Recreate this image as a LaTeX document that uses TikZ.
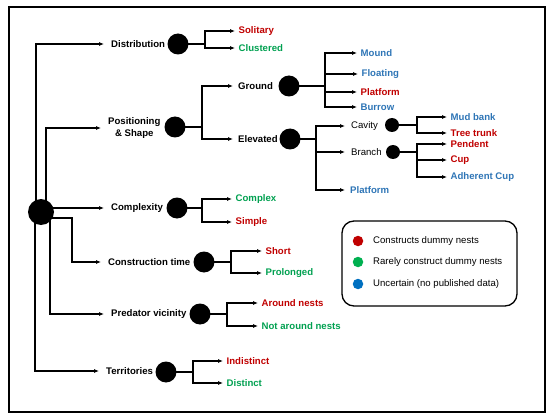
\documentclass[tikz,border=0pt]{standalone}
\usepackage{fontspec}
\setmainfont{Liberation Sans}
\usetikzlibrary{arrows.meta}
\definecolor{cred}{RGB}{192,0,0}
\definecolor{cgreen}{RGB}{0,160,80}
\definecolor{cblue}{RGB}{46,117,182}
\definecolor{dred}{RGB}{192,0,0}
\definecolor{dgreen}{RGB}{0,176,80}
\definecolor{dblue}{RGB}{0,112,192}
\begin{document}
\begin{tikzpicture}[x=1pt,y=-1pt,
  lw/.style={line width=1.3pt},
  conn/.style={lw,-{Latex[length=5pt,width=4.2pt]}},
  bigdot/.style={circle,fill=black,inner sep=0pt,minimum size=21pt},
  smalldot/.style={circle,fill=black,inner sep=0pt,minimum size=14pt},
  txt/.style={font=\fontsize{9.6}{11.5}\selectfont, anchor=west, inner ysep=1pt},
  cat/.style={txt,font=\fontsize{9.6}{11.5}\selectfont\bfseries, inner xsep=7pt},
  sub/.style={txt,font=\fontsize{9.6}{11.5}\selectfont\bfseries, inner xsep=5pt},
  plain/.style={txt, inner xsep=6pt},
  leaf/.style={txt,font=\fontsize{9.6}{11.5}\selectfont\bfseries, inner xsep=3.5pt, text=#1},
  legtxt/.style={txt, inner xsep=0pt},
  legdot/.style={circle,fill=#1,inner sep=0pt,minimum size=10.5pt}
]
\useasboundingbox (0,0) rectangle (555,420);
\draw[line width=1.6pt] (9,7) rectangle (545,412);

% root
\node[circle,fill=black,inner sep=0pt,minimum size=26pt] (root) at (41,212) {};

% level 1 labels
\node[cat] (dist) at (104,44) {Distribution};
\node[cat,align=center] (pos) at (101,128) {Positioning\\\& Shape};
\node[cat] (cplx) at (104,208) {Complexity};
\node[cat] (ctime) at (101,262) {Construction time};
\node[cat] (pred) at (104,314) {Predator vicinity};
\node[cat] (terr) at (99,371) {Territories};

\coordinate (jroot) at (72,218);
\draw[conn] ([xshift=-5pt]root.center) |- (dist.west);
\draw[conn] ([xshift=5pt]root.center) |- (pos.west);
\draw[conn] ([yshift=4pt]root.center) -- (cplx.west);
\draw[conn] (root.center |- jroot) -- (jroot) |- (ctime.west);
\draw[conn] ([xshift=9pt]root.center) |- (pred.west);
\draw[conn] ([xshift=-6pt]root.center) |- (terr.west);

% level 1 dots
\node[bigdot] (cdist) at (178,44) {};
\node[bigdot] (cpos) at (175,127) {};
\node[bigdot] (ccplx) at (177,208) {};
\node[bigdot] (cctime) at (204,262) {};
\node[bigdot] (cpred) at (200,314) {};
\node[bigdot] (cterr) at (166,372) {};

% Distribution
\node[leaf=cred] (sol) at (235,31) {Solitary};
\node[leaf=cgreen] (clu) at (235,48) {Clustered};
\coordinate (jd) at (205,44);
\draw[lw] (cdist.center) -- (jd);
\draw[conn] (jd) |- (sol.west);
\draw[conn] (jd) |- (clu.west);

% Positioning
\node[sub] (ground) at (233,86) {Ground};
\node[sub] (elev) at (233,139) {Elevated};
\coordinate (jp) at (202,127);
\draw[lw] (cpos.center) -- (jp);
\draw[conn] (jp) |- (ground.west);
\draw[conn] (jp) |- (elev.west);

% Ground
\node[bigdot] (cground) at (289,86) {};
\node[leaf=cblue] (mound) at (357,53) {Mound};
\node[leaf=cblue] (float) at (358,74) {Floating};
\node[leaf=cred] (plat1) at (357,92) {Platform};
\node[leaf=cblue] (burrow) at (357,107) {Burrow};
\coordinate (jg) at (325,86);
\draw[lw] (cground.center) -- (jg);
\draw[conn] (jg) |- (mound.west);
\draw[conn] (jg) |- (float.west);
\draw[conn] (jg) |- (plat1.west);
\draw[conn] (jg) |- (burrow.west);

% Elevated
\node[bigdot] (celev) at (290,139) {};
\node[plain] (cavity) at (345,126) {Cavity};
\node[plain] (branch) at (345,152) {Branch};
\node[leaf=cblue,inner xsep=5pt] (plat2) at (345,190) {Platform};
\coordinate (je) at (316,139);
\draw[lw] (celev.center) -- (je);
\draw[conn] (je) |- (cavity.west);
\draw[conn] (je) |- (branch.west);
\draw[conn] (je) |- (plat2.west);

% Cavity
\node[smalldot] (ccav) at (392,125) {};
\node[leaf=cblue] (mud) at (447,117) {Mud bank};
\node[leaf=cred] (tree) at (447,133) {Tree trunk};
\coordinate (jc) at (417,125);
\draw[lw] (ccav.center) -- (jc);
\draw[conn] (jc) |- (mud.west);
\draw[conn] (jc) |- (tree.west);

% Branch
\node[smalldot] (cbran) at (393,152) {};
\node[leaf=cred] (pend) at (447,144) {Pendent};
\node[leaf=cred] (cup) at (447,160) {Cup};
\node[leaf=cblue] (adh) at (447,177) {Adherent Cup};
\coordinate (jb) at (417,152);
\draw[line width=1.8pt] (cbran.center) -- (jb);
\draw[conn] (jb) |- (pend.west);
\draw[conn] (jb) |- (cup.west);
\draw[conn] (jb) |- (adh.west);

% Complexity
\node[leaf=cgreen] (complex) at (232,199) {Complex};
\node[leaf=cred] (simple) at (232,222) {Simple};
\coordinate (jx) at (202,208);
\draw[lw] (ccplx.center) -- (jx);
\draw[conn] (jx) |- (complex.west);
\draw[conn] (jx) |- (simple.west);

% Construction time
\node[leaf=cred] (short) at (262,251) {Short};
\node[leaf=cgreen] (prol) at (262,273) {Prolonged};
\coordinate (jt) at (231,262);
\draw[lw] (cctime.center) -- (jt);
\draw[conn] (jt) |- (short.west);
\draw[conn] (jt) |- (prol.west);

% Predator vicinity
\node[leaf=cred] (around) at (258,303) {Around nests};
\node[leaf=cgreen] (notar) at (258,326) {Not around nests};
\coordinate (jv) at (227,314);
\draw[lw] (cpred.center) -- (jv);
\draw[conn] (jv) |- (around.west);
\draw[conn] (jv) |- (notar.west);

% Territories
\node[leaf=cred] (indist) at (223,361) {Indistinct};
\node[leaf=cgreen] (distinct) at (223,383) {Distinct};
\coordinate (jr) at (193,372);
\draw[lw] (cterr.center) -- (jr);
\draw[conn] (jr) |- (indist.west);
\draw[conn] (jr) |- (distinct.west);

% Legend
\node[draw,lw,rounded corners=12pt,minimum width=175pt,minimum height=85pt,inner sep=0pt] (legend) at (429.5,263.5) {};
\node[legdot=dred] (l1) at (358,241) {};
\node[legdot=dgreen] (l2) at (358,262) {};
\node[legdot=dblue] (l3) at (358,284) {};
\node[legtxt] (t1) at (373,241) {Constructs dummy nests};
\node[legtxt] (t2) at (373,262) {Rarely construct dummy nests};
\node[legtxt] (t3) at (373,284) {Uncertain (no published data)};
\end{tikzpicture}
\end{document}
